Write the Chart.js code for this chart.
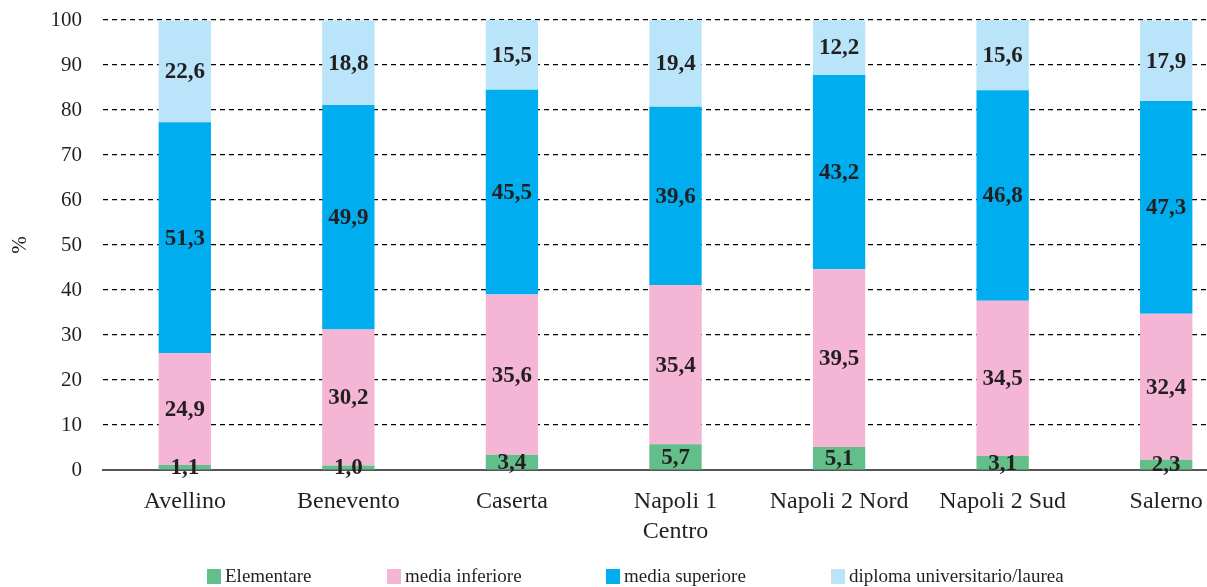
<!DOCTYPE html>
<html>
<head>
<meta charset="utf-8">
<script src="https://cdn.jsdelivr.net/npm/chart.js@4"></script>
<style>
html,body{margin:0;padding:0;background:#fff;overflow:hidden;width:1207px;height:587px;}
#wrap{position:absolute;left:0;top:0;width:1248px;height:587px;}
</style>
</head>
<body>
<div id="wrap"><canvas id="c"></canvas></div>
<script>
const categories = ['Avellino','Benevento','Caserta',['Napoli 1','Centro'],'Napoli 2 Nord','Napoli 2 Sud','Salerno'];
const elementare = [1.1, 1.0, 3.4, 5.7, 5.1, 3.1, 2.3];
const mediaInferiore = [24.9, 30.2, 35.6, 35.4, 39.5, 34.5, 32.4];
const mediaSuperiore = [51.3, 49.9, 45.5, 39.6, 43.2, 46.8, 47.3];
const diploma = [22.6, 18.8, 15.5, 19.4, 12.2, 15.6, 17.9];
const yTicks = [0,10,20,30,40,50,60,70,80,90,100];

const FONT = "'Liberation Serif', 'DejaVu Serif', serif";
const TXT = '#231F20';
const LEGEND_X = [207, 387, 606, 831];

const labelPlugin = {
  id: 'segLabels',
  afterDatasetsDraw(chart) {
    const ctx = chart.ctx;
    ctx.save();
    ctx.font = 'bold 23px ' + FONT;
    ctx.fillStyle = TXT;
    ctx.textAlign = 'center';
    ctx.textBaseline = 'middle';
    chart.data.datasets.forEach((ds, i) => {
      const meta = chart.getDatasetMeta(i);
      meta.data.forEach((el, j) => {
        const v = ds.data[j];
        const y = (el.y + el.base) / 2;
        ctx.fillText(v.toFixed(1).replace('.', ','), el.x, y + 1);
      });
    });
    ctx.restore();
  }
};

const legendPlugin = {
  id: 'customLegend',
  afterDraw(chart) {
    const ctx = chart.ctx;
    ctx.save();
    ctx.font = '19px ' + FONT;
    ctx.textBaseline = 'middle';
    ctx.textAlign = 'left';
    const yc = 577;
    chart.data.datasets.forEach((ds, i) => {
      const x = LEGEND_X[i];
      ctx.fillStyle = ds.backgroundColor;
      ctx.fillRect(x, yc - 8, 14, 15);
      ctx.fillStyle = TXT;
      ctx.fillText(ds.label, x + 18, yc);
    });
    ctx.restore();
  }
};

new Chart(document.getElementById('c'), {
  type: 'bar',
  data: {
    labels: categories,
    datasets: [
      {label: 'Elementare', data: elementare, backgroundColor: '#63BF8A'},
      {label: 'media inferiore', data: mediaInferiore, backgroundColor: '#F5B5D5'},
      {label: 'media superiore', data: mediaSuperiore, backgroundColor: '#00AEEF'},
      {label: 'diploma universitario/laurea', data: diploma, backgroundColor: '#B9E4F9'}
    ]
  },
  options: {
    responsive: true,
    maintainAspectRatio: false,
    animation: false,
    layout: {padding: {left: 0, right: 0, top: 20, bottom: 0}},
    datasets: {bar: {barPercentage: 0.64, categoryPercentage: 0.5}},
    plugins: {
      legend: {display: false},
      tooltip: {enabled: false}
    },
    scales: {
      x: {
        stacked: true,
        grid: {display: false},
        border: {display: true, color: '#555', width: 2},
        ticks: {font: {family: FONT, size: 24, lineHeight: 1.25}, color: TXT, padding: 9, maxRotation: 0, autoSkip: false},
        afterFit(s) { s.height = 117; s.paddingLeft = 0; s.paddingRight = 0; }
      },
      y: {
        stacked: true,
        min: 0, max: 100,
        afterBuildTicks(s) { s.ticks = yTicks.map(v => ({value: v})); },
        ticks: {font: {family: FONT, size: 21}, color: TXT, padding: 21},
        grid: {color: '#000', lineWidth: 1.2, drawTicks: false},
        border: {display: false, dash: [5, 4]},
        title: {display: true, text: '%', font: {family: FONT, size: 21}, color: TXT, padding: {top: 8, bottom: 0}},
        afterFit(s) { s.width = 103; s.paddingTop = 0; s.paddingBottom = 0; }
      }
    }
  },
  plugins: [labelPlugin, legendPlugin]
});
</script>
</body>
</html>
